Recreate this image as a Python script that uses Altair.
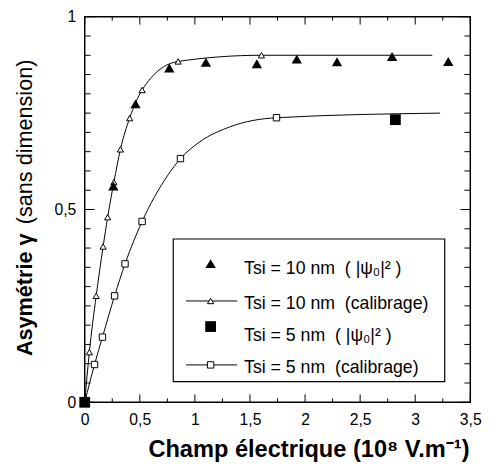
import altair as alt
import pandas as pd

# ---------------- data ----------------
# Tsi = 10 nm (|psi0|^2) : filled triangles
psi10_x = [0.26, 0.461, 0.768, 1.10, 1.5625, 1.925, 2.29, 2.79, 3.30]
psi10_y = [0.561, 0.774, 0.867, 0.882, 0.878, 0.890, 0.883, 0.897, 0.884]

# Tsi = 10 nm (calibrage) : open triangles on a line
cal10_x = [0, 0.042, 0.104, 0.167, 0.208, 0.265, 0.324, 0.408, 0.521, 0.848, 1.604]
cal10_y = [0, 0.130, 0.276, 0.404, 0.480, 0.571, 0.656, 0.737, 0.810, 0.884, 0.900]
cal10_line_extra_x = [3.155]
cal10_line_extra_y = [0.900]

# Tsi = 5 nm (|psi0|^2) : filled squares
psi5_x = [0, 2.82]
psi5_y = [0, 0.733]

# Tsi = 5 nm (calibrage) : open squares on a line
cal5_x = [0, 0.089, 0.161, 0.271, 0.366, 0.521, 0.869, 1.741]
cal5_y = [0, 0.098, 0.169, 0.276, 0.359, 0.469, 0.632, 0.738]
cal5_line_extra_x = [0.75, 1.047, 1.315, 3.226]
cal5_line_extra_y = [0.587, 0.676, 0.714, 0.750]

# axis ticks
x_label_values = [0, 0.5, 1, 1.5, 2, 2.5, 3, 3.5]
x_minor_values = [0.25, 0.75, 1.25, 1.75, 2.25, 2.75, 3.25]
y_label_values = [0, 0.5, 1]
y_minor_values = [0.05, 0.1, 0.15, 0.2, 0.25, 0.3, 0.35, 0.4, 0.45,
                  0.55, 0.6, 0.65, 0.7, 0.75, 0.8, 0.85, 0.9, 0.95]

NB = "\u00a0"
legend_labels = [f"Tsi = 10 nm {NB}( |ψ₀|² )", f"Tsi = 10 nm {NB}(calibrage)",
                 f"Tsi = 5 nm {NB}( |ψ₀|² )", f"Tsi = 5 nm {NB}(calibrage)"]

x_title = "Champ électrique (10⁸ V.m⁻¹)"
y_title_bold = "Asymétrie γ"
y_title_normal = "(sans dimension)"

# ---------------- chart ----------------
W, H = 392, 392
FONT = "Liberation Sans"
label_expr = "replace(format(datum.value, '~g'), '.', ',')"

x_scale = alt.Scale(domain=[0, 3.5], nice=False, zero=False)
y_scale = alt.Scale(domain=[0, 1], nice=False, zero=False)

x_axis = alt.Axis(values=x_label_values, labelExpr=label_expr, title=None,
                  tickSize=0, domain=False, grid=False, labelFlush=False,
                  labelFontSize=16, labelPadding=10, labelFont=FONT,
                  labelColor="black", labelOverlap=False)
y_axis = alt.Axis(values=y_label_values, labelExpr=label_expr, title=None,
                  tickSize=0, domain=False, grid=False, labelFontSize=16,
                  labelPadding=9, labelFont=FONT, labelColor="black",
                  labelOverlap=False, labelBaseline="middle", labelFlush=False)


def X(field="x"):
    return alt.X(f"{field}:Q", scale=x_scale, axis=x_axis)


def Y(field="y"):
    return alt.Y(f"{field}:Q", scale=y_scale, axis=y_axis)


cal10_df = pd.DataFrame({"x": cal10_x, "y": cal10_y})
cal10_line_df = pd.DataFrame({"x": cal10_x + cal10_line_extra_x,
                              "y": cal10_y + cal10_line_extra_y}).sort_values("x")
cal5_df = pd.DataFrame({"x": cal5_x, "y": cal5_y})
cal5_line_df = pd.DataFrame({"x": cal5_x + cal5_line_extra_x,
                             "y": cal5_y + cal5_line_extra_y}).sort_values("x")
psi10_df = pd.DataFrame({"x": psi10_x, "y": psi10_y})
psi5_df = pd.DataFrame({"x": psi5_x, "y": psi5_y})

layers = []
layers.append(alt.Chart(cal10_line_df).mark_line(
    interpolate="monotone", color="black", strokeWidth=1).encode(x=X(), y=Y()))
layers.append(alt.Chart(cal5_line_df).mark_line(
    interpolate="monotone", color="black", strokeWidth=1).encode(x=X(), y=Y()))
layers.append(alt.Chart(cal10_df).mark_point(
    shape="triangle-up", filled=True, fill="white", stroke="black",
    strokeWidth=1, size=40, opacity=1).encode(x=X(), y=Y()))
layers.append(alt.Chart(cal5_df).mark_point(
    shape="square", filled=True, fill="white", stroke="black",
    strokeWidth=1, size=42, opacity=1).encode(x=X(), y=Y()))
layers.append(alt.Chart(psi10_df).mark_point(
    shape="triangle-up", filled=True, color="black", size=110,
    opacity=1).encode(x=X(), y=Y()))
layers.append(alt.Chart(psi5_df).mark_point(
    shape="square", filled=True, color="black", size=120,
    opacity=1).encode(x=X(), y=Y()))

# inward ticks on all four sides
xmaj = pd.DataFrame({"x": x_label_values})
xmin = pd.DataFrame({"x": x_minor_values})
ymaj = pd.DataFrame({"y": y_label_values})
ymin = pd.DataFrame({"y": y_minor_values})
for df, ln in [(xmaj, 8), (xmin, 4)]:
    layers.append(alt.Chart(df).mark_rule(color="black", strokeWidth=1).encode(
        x=X(), y=alt.value(H), y2=alt.value(H - ln)))
    layers.append(alt.Chart(df).mark_rule(color="black", strokeWidth=1).encode(
        x=X(), y=alt.value(0), y2=alt.value(ln)))
for df, ln in [(ymaj, 10), (ymin, 6)]:
    layers.append(alt.Chart(df).mark_rule(color="black", strokeWidth=1).encode(
        y=Y(), x=alt.value(0), x2=alt.value(ln)))
    layers.append(alt.Chart(df).mark_rule(color="black", strokeWidth=1).encode(
        y=Y(), x=alt.value(W), x2=alt.value(W - ln)))

# legend
one = pd.DataFrame({"a": [0]})
layers.append(alt.Chart(one).mark_rect(fill="white", stroke="black",
                                       strokeWidth=1.2).encode(
    x=alt.value(90), x2=alt.value(366), y=alt.value(226), y2=alt.value(371)))

sym_x = 128
row_sym_y = [251, 289, 315, 354]
row_txt_y = [262, 297, 330, 362]
styles = [("triangle-up", True, 110, False),
          ("triangle-up", False, 40, True),
          ("square", True, 120, False),
          ("square", False, 42, True)]
for i, (lab, (shape, filled, size, line)) in enumerate(zip(legend_labels, styles)):
    if line:
        layers.append(alt.Chart(one).mark_rule(color="black", strokeWidth=1).encode(
            x=alt.value(103), x2=alt.value(155),
            y=alt.value(row_sym_y[i])))
    if filled:
        pt = alt.Chart(one).mark_point(shape=shape, filled=True, color="black",
                                       size=size, opacity=1)
    else:
        pt = alt.Chart(one).mark_point(shape=shape, filled=True, fill="white",
                                       stroke="black", strokeWidth=1, size=size,
                                       opacity=1)
    layers.append(pt.encode(x=alt.value(sym_x), y=alt.value(row_sym_y[i])))
    layers.append(alt.Chart(pd.DataFrame({"t": [lab]})).mark_text(
        align="left", baseline="alphabetic", font=FONT, fontSize=18,
        color="black").encode(text="t:N", x=alt.value(162),
                              y=alt.value(row_txt_y[i])))

# axis titles
layers.append(alt.Chart(pd.DataFrame({"t": [x_title]})).mark_text(
    align="center", baseline="alphabetic", font=FONT, fontSize=24,
    fontWeight="bold", color="black").encode(
    text="t:N", x=alt.value(228), y=alt.value(448)))
layers.append(alt.Chart(pd.DataFrame({"t": [y_title_bold]})).mark_text(
    align="left", baseline="middle", angle=270, font=FONT, fontSize=22,
    fontWeight="bold", color="black").encode(
    text="t:N", x=alt.value(-61), y=alt.value(345)))
layers.append(alt.Chart(pd.DataFrame({"t": [y_title_normal]})).mark_text(
    align="left", baseline="middle", angle=270, font=FONT, fontSize=22,
    color="black").encode(
    text="t:N", x=alt.value(-61), y=alt.value(211)))

chart = alt.layer(*layers).properties(
    width=W, height=H,
    autosize=alt.AutoSizeParams(type="none"),
    padding={"left": 78, "top": 5, "right": 18, "bottom": 66},
    background="white",
).configure_view(stroke="black", strokeWidth=1.5)

chart.save("out.html", embed_options={"renderer": "svg", "actions": False})
